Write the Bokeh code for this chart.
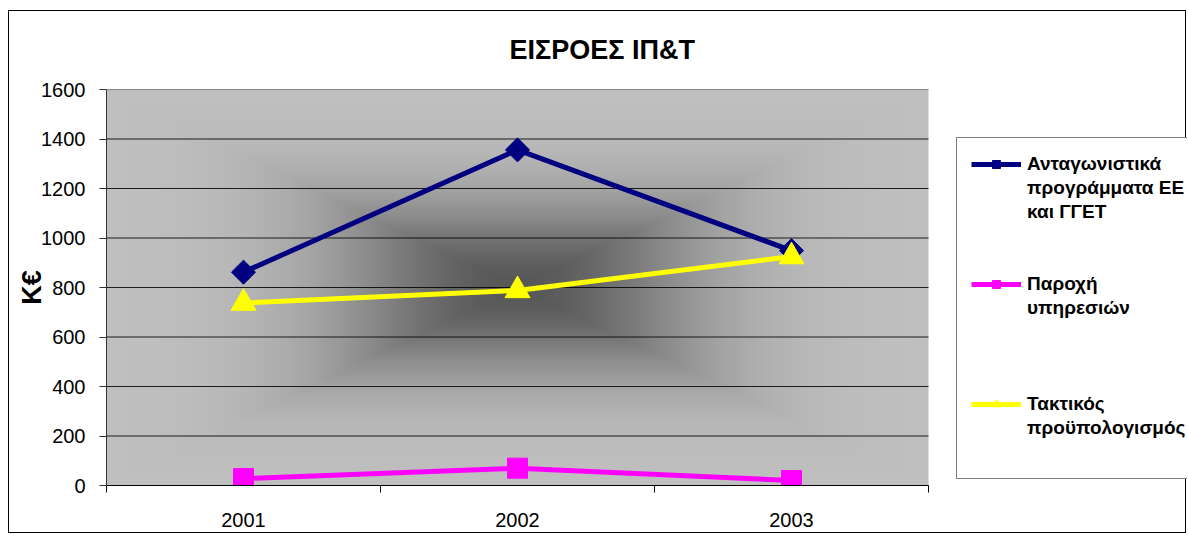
import numpy as np
from bokeh.plotting import figure
from bokeh.models import Range1d, FixedTicker, Legend, LegendItem, Title
from bokeh.embed import file_html
from bokeh.resources import INLINE

# ---- data ----
years = ["2001", "2002", "2003"]
competitive = [862, 1356, 949]   # Ανταγωνιστικά προγράμματα ΕΕ και ΓΓΕΤ
services = [28, 70, 20]          # Παροχή υπηρεσιών
budget = [737, 788, 925]         # Τακτικός προϋπολογισμός
y_ticks = [0, 200, 400, 600, 800, 1000, 1200, 1400, 1600]

series_labels = [["Ανταγωνιστικά", "προγράμματα ΕΕ", "και ΓΓΕΤ"],
                 ["Παροχή", "υπηρεσιών"],
                 ["Τακτικός", "προϋπολογισμός"]]

xs = [i + 1 for i in range(len(years))]
FONT = "Liberation Sans"

# layout: plot area 822 px wide inside a 1081 px frame (right part holds the legend)
x_start = 0.5
x_plot_end = len(years) + 0.5
x_end = x_start + (x_plot_end - x_start) * 1081 / 822

p = figure(width=1178, height=523, output_backend="svg", toolbar_location=None,
           x_range=Range1d(x_start, x_end), y_range=Range1d(0, 1600),
           min_border_left=97, min_border_right=0, min_border_top=78,
           min_border_bottom=49, title=None)
p.margin = (10, 0, 0, 8)
p.styles = {"border": "1px solid black"}
p.outline_line_color = None
p.background_fill_color = "white"

# gradient background of the plot area (style only)
nx, ny = 300, 200
u = np.abs(np.linspace(-1, 1, nx))[None, :]
v = np.abs(np.linspace(-1, 1, ny))[:, None]
t = np.maximum(u, v)
dark = np.exp(-(t / 0.44) ** 2)
light_c, dark_c = 192, 88
g = (light_c - (light_c - dark_c) * dark).astype(np.uint32)
img = (255 << 24) | (g << 16) | (g << 8) | g
p.image_rgba(image=[img.astype(np.uint32)], x=x_start, y=0,
             dw=x_plot_end - x_start, dh=1600, level="image")

# horizontal grid lines limited to the plot area
p.segment(x0=[x_start] * len(y_ticks), x1=[x_plot_end] * len(y_ticks),
          y0=y_ticks, y1=y_ticks, line_color="black", line_alpha=0.85, line_width=1)

# title
title = Title(text="ΕΙΣΡΟΕΣ ΙΠ&Τ", align="left", offset=403, vertical_align="top",
              standoff=45, text_font=FONT, text_font_size="27px", text_font_style="bold",
              text_color="black")
p.add_layout(title, "above")

# axes
p.yaxis.ticker = FixedTicker(ticks=y_ticks)
p.yaxis.axis_label = "Κ€"
p.yaxis.axis_label_text_font = FONT
p.yaxis.axis_label_text_font_size = "27px"
p.yaxis.axis_label_text_font_style = "bold"
p.yaxis.axis_label_text_color = "black"
p.yaxis.axis_label_standoff = -9
p.yaxis.major_label_text_font = FONT
p.yaxis.major_label_text_font_size = "20px"
p.yaxis.major_label_text_color = "black"
p.yaxis.major_label_standoff = 14
p.yaxis.major_tick_out = 7
p.yaxis.major_tick_in = 0
p.yaxis.minor_tick_out = 0
p.yaxis.axis_line_color = "#333333"
p.yaxis.major_tick_line_color = "#333333"

p.xaxis.ticker = FixedTicker(ticks=xs, minor_ticks=[x - 0.5 for x in xs] + [xs[-1] + 0.5])
p.xaxis.bounds = (x_start, x_plot_end)
p.xaxis.major_label_overrides = {x: yr for x, yr in zip(xs, years)}
p.xaxis.major_label_text_font = FONT
p.xaxis.major_label_text_font_size = "20px"
p.xaxis.major_label_text_color = "black"
p.xaxis.major_tick_out = 0
p.xaxis.major_tick_in = 0
p.xaxis.minor_tick_out = 7
p.xaxis.minor_tick_in = 0
p.xaxis.major_label_standoff = 20
p.xaxis.axis_line_color = "black"
p.xaxis.minor_tick_line_color = "black"

p.xgrid.visible = False
p.ygrid.visible = False

# series
l1 = p.line(xs, competitive, line_color="#000080", line_width=5)
s1 = p.scatter(xs, competitive, marker="square", angle=np.pi / 4, size=17,
               fill_color="#000080", line_color="#000080")
l2 = p.line(xs, services, line_color="#ff00ff", line_width=5)
s2 = p.scatter(xs, services, marker="square", size=20,
               fill_color="#ff00ff", line_color="#ff00ff")
l3 = p.line(xs, budget, line_color="#ffff00", line_width=5)
s3 = p.scatter(xs, budget, marker="triangle", size=25,
               fill_color="#ffff00", line_color="#ffff00")

# invisible renderer used for continuation / spacer rows of the legend
blank = p.line(x=[], y=[], line_alpha=0)

rows = []
for k, (lab, rends) in enumerate(zip(series_labels, [[l1, s1], [l2, s2], [l3, s3]])):
    rows.append(LegendItem(label=lab[0], renderers=rends))
    for extra in lab[1:]:
        rows.append(LegendItem(label=extra, renderers=[blank]))
    n_gap = [2, 3, 1][k]
    for _ in range(n_gap):
        rows.append(LegendItem(label=" ", renderers=[blank]))

legend = Legend(items=rows, location=(850, 6))
legend.label_text_font = FONT
legend.label_text_font_size = "19px"
legend.label_text_font_style = "bold"
legend.label_text_color = "black"
legend.label_height = 24
legend.glyph_width = 50
legend.glyph_height = 20
legend.label_standoff = 6
legend.spacing = 0
legend.padding = 14
legend.margin = 0
legend.border_line_color = "black"
legend.border_line_width = 1
legend.background_fill_color = "white"
legend.background_fill_alpha = 1
p.add_layout(legend, "center")

open("out.html", "w").write(file_html(p, INLINE))
